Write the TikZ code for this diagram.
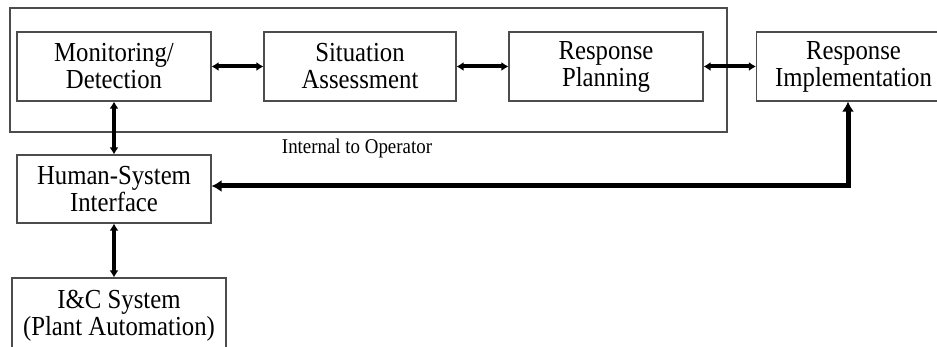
\documentclass[tikz,border=0pt]{standalone}
\usepackage{fontspec}
\setmainfont{Liberation Serif}
\newfontfamily\boxfont[FakeStretch=0.9]{Liberation Serif}
\usetikzlibrary{arrows.meta}

\begin{document}
\begin{tikzpicture}[x=1pt,y=-1pt]
    \tikzset{block/.style = {shape=rectangle, draw=black!70, line width=1.1pt, align=center,
        minimum width=194pt, minimum height=69pt, inner sep=0pt,
        font=\boxfont\fontsize{27.5}{27}\selectfont}}
    \tikzset{link/.style = {draw=black, line width=4pt, {Latex[length=7pt,width=9pt]}-{Latex[length=7pt,width=9pt]}}}
    \tikzset{feedback/.style = {draw=black, line width=5pt, {Latex[length=10pt,width=12pt]}-{Latex[length=10pt,width=12pt]}}}

    \useasboundingbox (0,0) rectangle (937,347);
    \clip (0,0) rectangle (937,347);

    % operator frame
    \node[draw=black!70, line width=1.1pt, minimum width=717pt, minimum height=124pt, inner sep=0pt] (frame) at (368.5,70) {};
    \node[font=\boxfont\fontsize{21}{22}\selectfont] (internal) at (357,148) {Internal to Operator};

    % vertices
    \node[block] (mon)  at (114,66.5)  {Monitoring/\\Detection};
    \node[block, minimum width=192pt] (sit)  at (360,66.5)  {Situation\\Assessment};
    \node[block] (plan) at (606,66.5)  {Response\\Planning};
    \node[block] (impl) at (853.5,66.5) {Response\\Implementation};
    \node[block, minimum height=68pt] (hsi) at (114,189) {Human-System\\Interface};
    \node[block, minimum width=214pt, minimum height=75pt] (ic) at (119,315.5) {I\&C System\\(Plant Automation)};

    % edges
    \draw[link] (mon) -- (sit);
    \draw[link] (sit) -- (plan);
    \draw[link] (plan) -- (impl);
    \draw[link] (mon) -- (hsi);
    \draw[link] (hsi.south) -- (hsi.south |- ic.north);
    \draw[feedback] ([yshift=3pt]hsi.east) -| ([xshift=-5.5pt]impl.south);
\end{tikzpicture}
\end{document}
